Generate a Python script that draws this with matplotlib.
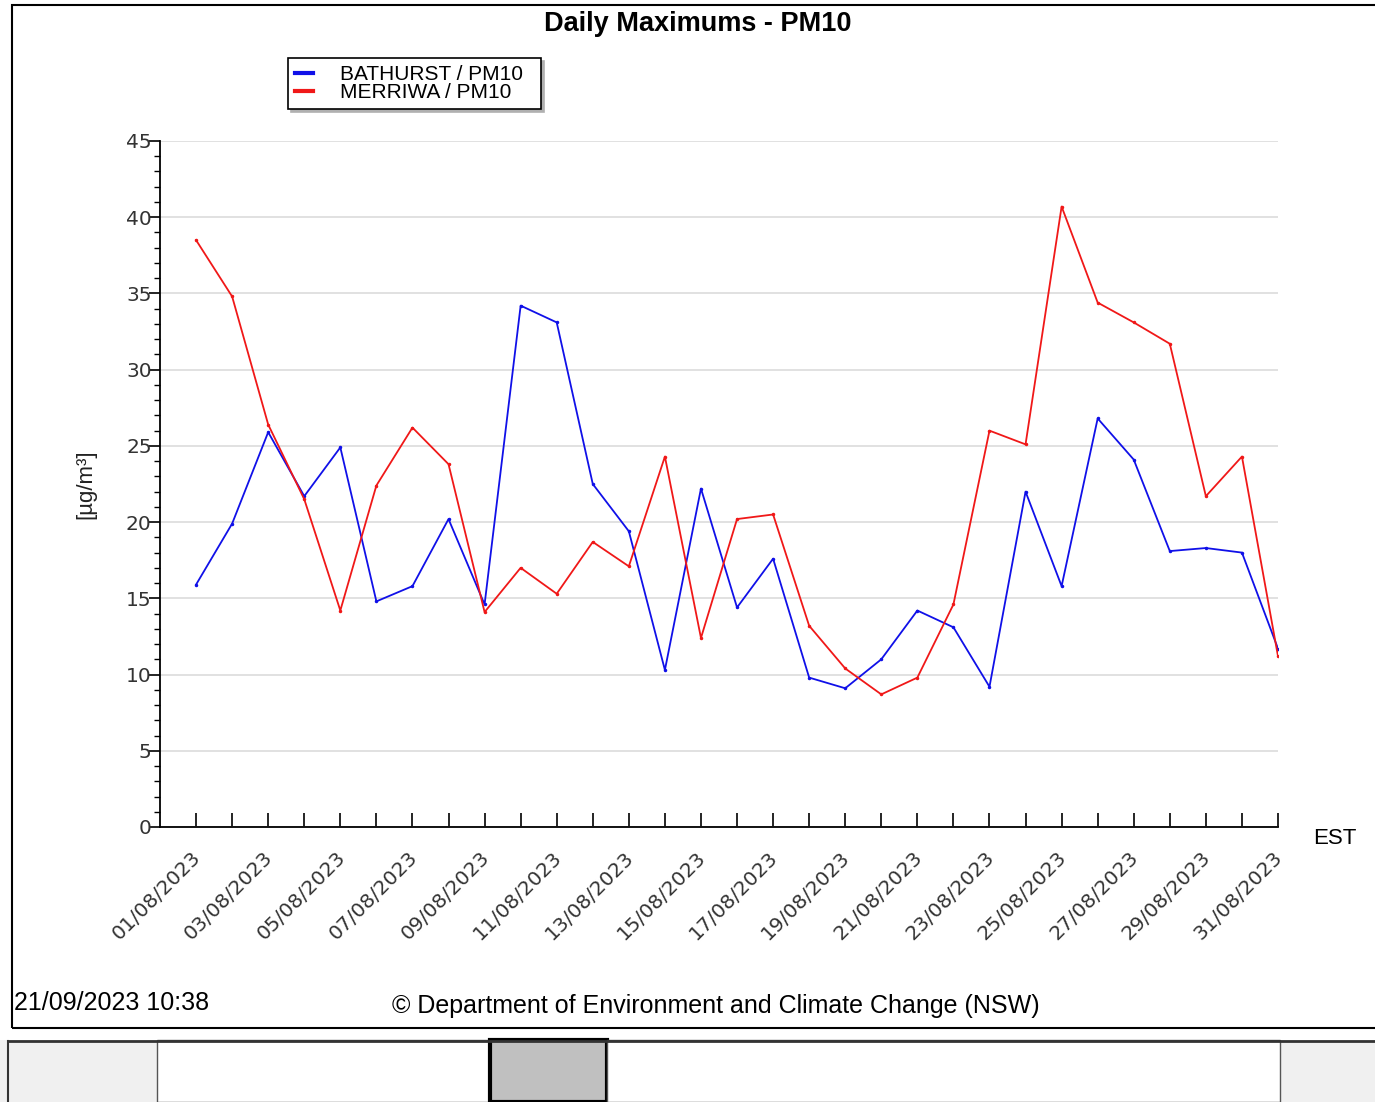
import numpy as np
import matplotlib
matplotlib.use("Agg")
import matplotlib.pyplot as plt
import matplotlib.transforms as mtransforms
from matplotlib.patches import Rectangle
from matplotlib.lines import Line2D
from matplotlib.ticker import MultipleLocator

# datos (agosto 2023)
dias = list(range(1, 32))
etiquetas = [f"{d:02d}/08/2023" for d in dias]

bathurst = [15.9, 19.9, 25.9, 21.7, 24.9, 14.8, 15.8, 20.2, 14.6, 34.2,
            33.1, 22.5, 19.4, 10.3, 22.2, 14.4, 17.6, 9.8, 9.1, 11.0,
            14.2, 13.1, 9.2, 22.0, 15.8, 26.8, 24.1, 18.1, 18.3, 18.0, 11.7]
merriwa = [38.5, 34.8, 26.4, 21.5, 14.2, 22.4, 26.2, 23.8, 14.1, 17.0,
           15.3, 18.7, 17.1, 24.3, 12.4, 20.2, 20.5, 13.2, 10.4, 8.7,
           9.8, 14.6, 26.0, 25.1, 40.7, 34.4, 33.1, 31.7, 21.7, 24.3, 11.2]

W, H = 1375, 1102
fig = plt.figure(figsize=(W / 100, H / 100), dpi=100)
fig.patch.set_facecolor("white")


def fx(px):
    return px / W


def fy(py):
    return 1 - py / H


# marco exterior del grafico
fig.add_artist(Rectangle((fx(12), fy(1028)), fx(1400) - fx(12), fy(5) - fy(1028),
                         transform=fig.transFigure, fill=False, ec="black", lw=1.5))
# franja inferior
fig.add_artist(Rectangle((fx(0), fy(1102)), 1, fy(1040) - fy(1102),
                         transform=fig.transFigure, fc="#f0f0f0", ec="none"))
fig.add_artist(Rectangle((fx(157), fy(1102)), fx(490) - fx(157), fy(1040) - fy(1102),
                         transform=fig.transFigure, fc="white", ec="#555555", lw=1))
fig.add_artist(Rectangle((fx(490), fy(1102)), fx(607) - fx(490), fy(1040) - fy(1102),
                         transform=fig.transFigure, fc="#c0c0c0", ec="black", lw=3))
fig.add_artist(Rectangle((fx(607), fy(1102)), fx(1280) - fx(607), fy(1040) - fy(1102),
                         transform=fig.transFigure, fc="white", ec="#555555", lw=1))
fig.add_artist(Line2D([fx(8), 1], [fy(1041), fy(1041)], transform=fig.transFigure,
                      color="#333333", lw=2))
fig.add_artist(Line2D([fx(8), fx(8)], [fy(1102), fy(1041)], transform=fig.transFigure,
                      color="#333333", lw=1.5))

ax = fig.add_axes([fx(160), fy(827), fx(1278) - fx(160), fy(141) - fy(827)])
ax.plot(dias, bathurst, color="#1010e8", lw=1.3, marker="o", ms=1.5,
        label="BATHURST / PM10  ")
ax.plot(dias, merriwa, color="#f01818", lw=1.3, marker="o", ms=1.5,
        label="MERRIWA / PM10")

ax.set_xlim(0, 31)
ax.set_ylim(0, 45)
ax.yaxis.set_major_locator(MultipleLocator(5))
ax.yaxis.set_minor_locator(MultipleLocator(1))
ax.grid(axis="y", color="#dcdcdc", lw=1.2)
ax.set_axisbelow(True)

ax.set_xticks(dias)
ax.set_xticklabels([e if i % 2 == 0 else "" for i, e in enumerate(etiquetas)],
                   rotation=45, ha="right", va="top", rotation_mode="anchor",
                   fontsize=14.5, family="DejaVu Sans", color="#333333")
ax.tick_params(axis="x", direction="in", length=10, width=1.2, pad=15)
desplaza = mtransforms.ScaledTranslation(-5 / 100, 0, fig.dpi_scale_trans)
for lab in ax.get_xticklabels():
    lab.set_transform(lab.get_transform() + desplaza)
ax.tick_params(axis="y", which="major", direction="out", length=8, width=1.2,
               labelsize=14.5, pad=-2)
ax.tick_params(axis="y", which="minor", direction="out", length=4, width=1)
for lab in ax.get_yticklabels():
    lab.set_family("DejaVu Sans")
    lab.set_color("#333333")

for s in ["top", "right"]:
    ax.spines[s].set_visible(False)
ax.spines["left"].set_linewidth(1.3)
ax.spines["bottom"].set_linewidth(1.3)

ax.set_ylabel("[µg/m³]", fontsize=16, family="Liberation Sans", labelpad=21,
              color="#222222")

leg = ax.legend(loc="upper left", bbox_to_anchor=(fx(288), fy(58)),
                bbox_transform=fig.transFigure, borderaxespad=0,
                frameon=True, fancybox=False,
                shadow={"color": "#b0b0b0", "alpha": 1}, edgecolor="black",
                framealpha=1, handlelength=0.85, handletextpad=1.3,
                borderpad=0.33, labelspacing=-0.02,
                prop={"family": "Liberation Sans", "size": 15})
for h in leg.legend_handles:
    h.set_linewidth(3)
    h.set_marker("")
leg.get_frame().set_linewidth(1.2)

fig.text(fx(698), fy(24), "Daily Maximums - PM10", ha="center", va="center",
         fontsize=19.5, fontweight="bold", family="Liberation Sans")
fig.text(fx(1335), fy(838), "EST", ha="center", va="center", fontsize=16,
         family="Liberation Sans")
fig.text(fx(14), fy(1003), "21/09/2023 10:38", ha="left", va="center",
         fontsize=18, family="Liberation Sans")
fig.text(fx(716), fy(1006), "© Department of Environment and Climate Change (NSW)",
         ha="center", va="center", fontsize=18, family="Liberation Sans")

fig.savefig("out.png", dpi=100)
